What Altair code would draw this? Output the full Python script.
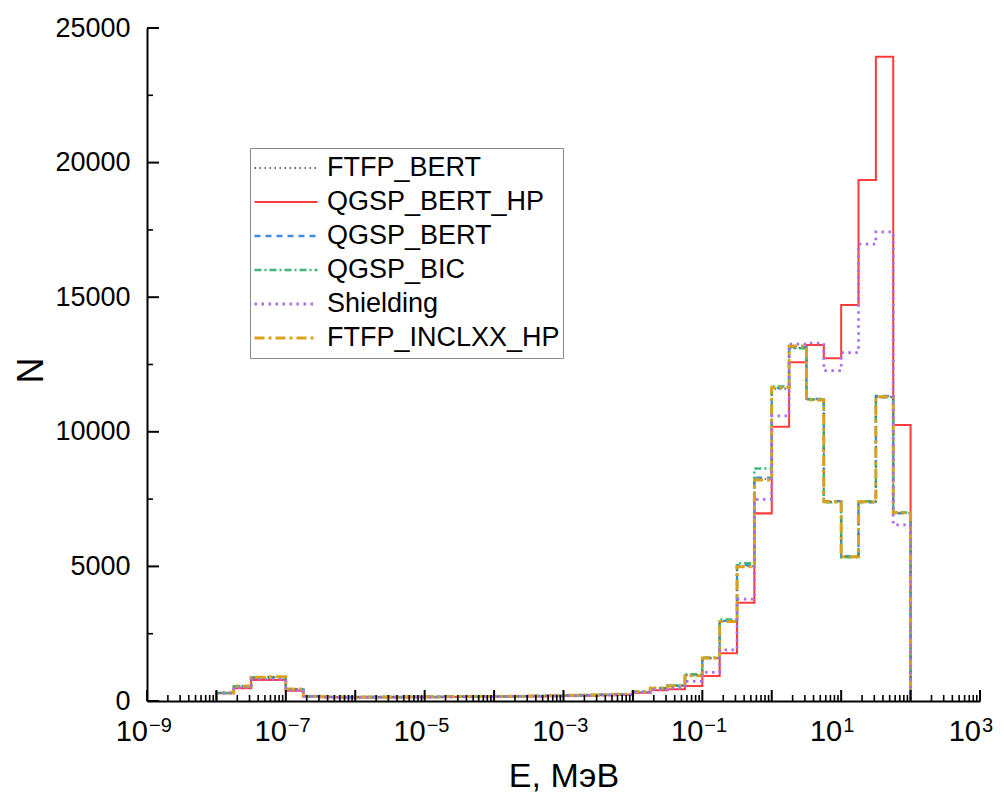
import altair as alt
import numpy as np
import pandas as pd

# ---- data (bin counts; 40 bins, 4 per decade, 1e-8 .. 1e2 MeV) ----
bin_lo_exp = np.arange(-8, 2, 0.25)          # lower edge exponents of the bins
upper_edge = 1e2
start_edge = 1e-8

series_names = ["FTFP_BERT", "QGSP_BERT_HP", "QGSP_BERT", "QGSP_BIC", "Shielding", "FTFP_INCLXX_HP"]

qgsp_bert_hp = [285, 470, 780, 780, 385,
                165, 140, 130, 130, 135, 135, 140, 140, 145, 150, 150, 160, 165, 170, 180, 190, 200, 215, 230,
                310, 400, 440, 555, 930, 1770, 3650, 6970, 10190, 12580, 13225, 12730, 14710, 19350, 23935, 10250]
shielding = [290, 500, 800, 800, 400,
             170, 145, 135, 135, 140, 140, 145, 145, 150, 155, 155, 165, 170, 175, 185, 195, 205, 220, 235,
             320, 420, 490, 730, 1060, 1900, 3780, 7490, 10590, 13260, 13290, 12270, 12940, 16975, 17430, 6540]
ftfp_inclxx_hp = [310, 560, 880, 900, 450,
                  180, 160, 150, 150, 150, 155, 155, 160, 160, 165, 170, 175, 180, 190, 200, 210, 220, 235, 250,
                  340, 470, 560, 940, 1600, 2950, 4990, 8210, 11650, 13190, 11180, 7400, 5360, 7400, 11300, 6990]
qgsp_bic = [300, 550, 870, 880, 440,
            178, 158, 150, 148, 150, 152, 155, 158, 160, 165, 168, 175, 180, 188, 198, 208, 220, 232, 248,
            345, 480, 580, 990, 1620, 3030, 5120, 8640, 11680, 13100, 11200, 7380, 5340, 7420, 11280, 7000]
qgsp_bert = [305, 555, 875, 890, 445,
             176, 157, 149, 149, 151, 153, 156, 159, 161, 166, 169, 176, 181, 189, 199, 209, 221, 233, 249,
             335, 470, 570, 960, 1590, 2980, 5050, 8300, 11620, 13150, 11220, 7420, 5380, 7380, 11330, 6970]
ftfp_bert = [300, 545, 870, 885, 440,
             175, 156, 148, 148, 150, 152, 155, 158, 160, 165, 168, 175, 180, 188, 198, 208, 220, 232, 248,
             338, 468, 565, 955, 1580, 2960, 5000, 8250, 11600, 13120, 11200, 7410, 5370, 7400, 11310, 6980]

# drawing order (bottom -> top)
draw_order = [("QGSP_BERT_HP", qgsp_bert_hp), ("QGSP_BERT", qgsp_bert), ("QGSP_BIC", qgsp_bic),
              ("FTFP_BERT", ftfp_bert), ("FTFP_INCLXX_HP", ftfp_inclxx_hp), ("Shielding", shielding)]

colors = ["#666666", "#ff3c3c", "#3d8ae8", "#3cb878", "#a96ef0", "#d9a11c"]
dashes = [[1.5, 3.5], [1, 0], [6, 5], [7, 3, 2, 3], [2.5, 4.5], [10, 4, 3, 4]]
widths = [1.8, 3.0, 2.0, 2.0, 3.0, 3.2]

x_major_exp = list(range(-9, 4))
x_label_exp = [-9, -7, -5, -3, -1, 1, 3]
y_major = [0, 5000, 10000, 15000, 20000, 25000]
y_minor = [2500, 7500, 12500, 17500, 22500]

rows = []
for name, vals in draw_order:
    rows.append({"series": name, "E": start_edge, "N": 0, "i": 0})
    for k, v in enumerate(vals):
        rows.append({"series": name, "E": 10 ** bin_lo_exp[k], "N": v, "i": k + 1})
    rows.append({"series": name, "E": upper_edge, "N": 0, "i": len(vals) + 1})
df = pd.DataFrame(rows)

W, H = 833, 673
FONT = "Liberation Sans"

xscale = alt.Scale(type="log", domain=[1e-9, 1e3], nice=False)
yscale = alt.Scale(domain=[0, 25000], nice=False, zero=True)

xaxis = alt.Axis(labels=False, ticks=False, grid=False, domain=True, domainColor="black",
                 domainWidth=2, title="E, МэВ", titleFont=FONT, titleFontSize=34,
                 titleFontWeight="normal", titleColor="black", titleX=416.5, titleY=85,
                 titleBaseline="alphabetic")
yaxis = alt.Axis(values=y_major, format="d", ticks=False, tickSize=0, grid=False,
                 domain=True, domainColor="black", domainWidth=2,
                 labelFont=FONT, labelFontSize=27, labelColor="black", labelPadding=17,
                 title="N", titleFont=FONT, titleFontSize=36, titleFontWeight="normal",
                 titleColor="black", titleX=-116, titleY=342, titleBaseline="middle")

leg = alt.Legend(orient="none", legendX=103, legendY=120, title=None,
                 symbolType="stroke", symbolSize=3969, clipHeight=34,
                 labelFont=FONT, labelFontSize=27, labelColor="black", labelOffset=8,
                 labelLimit=500, padding=3, rowPadding=0,
                 strokeColor="#8a8a8a", fillColor="white")

lines = alt.Chart(df).mark_line(interpolate="step-after", clip=True).encode(
    x=alt.X("E:Q", scale=xscale, axis=xaxis),
    y=alt.Y("N:Q", scale=yscale, axis=yaxis),
    color=alt.Color("series:N", scale=alt.Scale(domain=series_names, range=colors), legend=leg),
    strokeDash=alt.StrokeDash("series:N", scale=alt.Scale(domain=series_names, range=dashes), legend=leg),
    strokeWidth=alt.StrokeWidth("series:N", scale=alt.Scale(domain=series_names, range=widths), legend=leg),
    order=alt.Order("i:Q"),
)

xmaj_df = pd.DataFrame({"v": [10.0 ** e for e in x_major_exp]})
xmin_df = pd.DataFrame({"v": [m * 10.0 ** e for e in x_major_exp[:-1] for m in range(2, 10)]})
ymaj_df = pd.DataFrame({"v": y_major})
ymin_df = pd.DataFrame({"v": y_minor})

xmaj = alt.Chart(xmaj_df).mark_rule(color="black", strokeWidth=2).encode(
    x=alt.X("v:Q", scale=xscale, axis=xaxis), y=alt.value(H), y2=alt.value(H - 11))
xmin = alt.Chart(xmin_df).mark_rule(color="black", strokeWidth=1.6).encode(
    x=alt.X("v:Q", scale=xscale, axis=xaxis), y=alt.value(H), y2=alt.value(H - 6))
ymaj = alt.Chart(ymaj_df).mark_rule(color="black", strokeWidth=2).encode(
    y=alt.Y("v:Q", scale=yscale, axis=yaxis), x=alt.value(0), x2=alt.value(12))
ymin = alt.Chart(ymin_df).mark_rule(color="black", strokeWidth=1.6).encode(
    y=alt.Y("v:Q", scale=yscale, axis=yaxis), x=alt.value(0), x2=alt.value(6))

lab_df = pd.DataFrame({
    "v": [10.0 ** e for e in x_label_exp],
    "base": ["10"] * len(x_label_exp),
    "exp": [("\u2212" + str(-e)) if e < 0 else str(e) for e in x_label_exp],
})
xlab_base = alt.Chart(lab_df).mark_text(align="right", baseline="alphabetic", font=FONT,
                                        fontSize=29, color="black", dx=1).encode(
    x=alt.X("v:Q", scale=xscale, axis=xaxis), y=alt.value(H + 40), text="base:N")
xlab_exp = alt.Chart(lab_df).mark_text(align="left", baseline="alphabetic", font=FONT,
                                       fontSize=20, color="black", dx=2).encode(
    x=alt.X("v:Q", scale=xscale, axis=xaxis), y=alt.value(H + 31), text="exp:N")

chart = alt.layer(lines, xmaj, xmin, ymaj, ymin, xlab_base, xlab_exp).properties(
    width=W, height=H,
    autosize=alt.AutoSizeParams(type="none"),
    padding={"left": 147, "top": 28, "right": 24, "bottom": 95},
    background="white",
).configure_view(stroke=None)

chart.save("out.html", embed_options={"renderer": "svg", "actions": False})
